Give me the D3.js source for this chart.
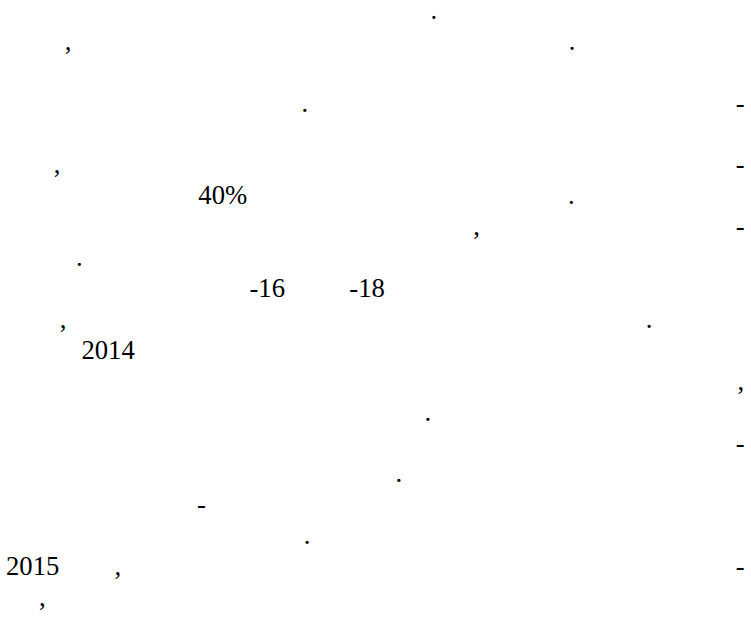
<!DOCTYPE html>
<html>
<head>
<meta charset="utf-8">
<script src="https://cdn.jsdelivr.net/npm/d3@7"></script>
<style>
  body { margin: 0; background: #fff; }
</style>
</head>
<body>
<script>
// visible glyphs of the page, one entry per token
// line = text line number, pos = place along the line (0 = left margin, 1 = right margin)
var tokens = [".", ",", ".", ".", "-", ",", "-", "40%", ".", ",", "-", ".", "-16", "-18",
              ",", ".", "2014", ",", ".", "-", ".", "-", ".", "2015", ",", "-", ","];
var line   = [0, 1, 1, 3, 3, 5, 5, 6, 6, 7, 7, 8, 9, 9,
              10, 10, 11, 12, 13, 14, 15, 16, 17, 18, 18, 18, 19];
var pos    = [0.578, 0.084, 0.765, 0.404, 0.992, 0.069, 0.992, 0.293, 0.764, 0.636, 0.992, 0.099, 0.353, 0.488,
              0.077, 0.869, 0.138, 0.993, 0.570, 0.992, 0.531, 0.264, 0.407, 0.036, 0.151, 0.992, 0.049];

var data = tokens.map(function(t, i){ return {text: t, line: line[i], pos: pos[i]}; });

var width = 751, height = 620;

var svg = d3.select("body")
    .append("svg")
    .attr("width", width)
    .attr("height", height);

svg.append("rect").attr("width", width).attr("height", height).attr("fill", "#fff");

var xScale = d3.scaleLinear().domain([0, 1]).range([6, 746]);
var yScale = d3.scaleLinear().domain([0, 19]).range([19, 606]);

svg.selectAll("text")
    .data(data)
    .enter()
    .append("text")
    .attr("x", function(d){ return xScale(d.pos); })
    .attr("y", function(d){ return yScale(d.line); })
    .attr("text-anchor", "middle")
    .style("font-family", "'Liberation Serif', 'Times New Roman', serif")
    .style("font-size", "26.7px")
    .style("fill", "#000")
    .text(function(d){ return d.text; });
</script>
</body>
</html>
